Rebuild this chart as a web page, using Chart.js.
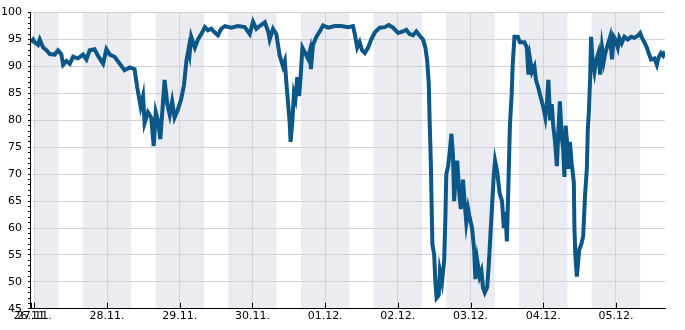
<!DOCTYPE html>
<html>
<head>
<meta charset="utf-8">
<script src="https://cdn.jsdelivr.net/npm/chart.js@4/dist/chart.umd.min.js"></script>
<style>
html, body { margin: 0; padding: 0; background: #fff; }
#wrap { width: 685px; height: 330px; position: relative; }
</style>
</head>
<body>
<div id="wrap"><canvas id="chart"></canvas></div>
<script>
// time in hours since 27.11. 00:00, humidity in %
var hours = [
	-1.1, -0.4, 0.1, 1.2, 1.8, 2.9, 4.0, 5.1, 6.7, 7.8, 8.9, 9.5, 10.6, 11.7, 12.8, 14.4, 16.1, 17.2, 18.3, 19.9,
	21.0, 22.7, 23.8, 24.9, 26.5, 28.2, 29.8, 31.5, 33.1, 34.0, 35.1, 35.9, 36.4, 37.5, 38.6, 39.4, 40.1, 40.8, 41.6, 42.3,
	43.0, 43.9, 44.7, 45.5, 46.3, 47.4, 48.5, 49.4, 50.2, 51.0, 51.3, 51.8, 53.0, 54.0, 55.1, 56.3, 57.3, 58.4, 59.6, 60.6,
	61.7, 62.9, 65.0, 67.2, 69.5, 71.1, 72.2, 73.3, 74.4, 76.1, 77.2, 77.7, 78.8, 79.9, 81.0, 82.1, 82.7, 83.2, 83.8, 84.3,
	84.6, 85.2, 85.7, 86.2, 86.8, 87.4, 87.9, 88.5, 89.4, 90.3, 91.0, 91.3, 92.0, 93.1, 94.2, 95.3, 97.0, 99.2, 101.3, 103.6,
	105.2, 105.8, 106.6, 107.4, 108.2, 109.1, 110.2, 111.2, 112.4, 114.0, 115.7, 117.0, 118.4, 120.1, 121.7, 122.8, 123.9, 125.0, 126.1, 127.2,
	128.3, 129.1, 129.7, 130.2, 130.5, 130.9, 131.1, 131.4, 132.0, 132.4, 132.8, 133.5, 133.9, 134.6, 135.3, 135.7, 136.0, 136.6, 137.1, 137.7,
	138.2, 138.6, 139.0, 139.6, 140.2, 140.8, 141.5, 142.1, 142.6, 143.2, 143.7, 144.5, 145.2, 145.6, 146.2, 147.0, 147.6, 148.1, 148.7, 149.5,
	150.0, 150.5, 151.1, 151.7, 152.1, 152.8, 153.6, 154.4, 155.0, 155.5, 156.0, 156.6, 157.0, 157.6, 157.9, 158.5, 159.6, 160.3, 161.8, 162.6,
	163.1, 163.6, 164.3, 165.1, 165.6, 166.4, 167.3, 168.0, 168.7, 169.2, 169.7, 170.3, 170.8, 171.3, 171.9, 172.5, 173.0, 173.5, 174.1, 174.6,
	175.0, 175.4, 176.0, 176.4, 176.8, 177.4, 178.1, 178.3, 178.6, 179.1, 179.5, 179.9, 180.6, 181.2, 181.8, 182.4, 182.7, 183.1, 183.5, 183.8,
	184.3, 184.9, 185.4, 186.2, 186.8, 187.4, 188.0, 188.5, 189.3, 190.1, 190.7, 191.3, 191.8, 192.6, 193.1, 193.9, 194.8, 195.9, 197.0, 198.1,
	199.2, 200.0, 200.6, 201.4, 202.2, 202.8, 203.6, 204.7, 205.5, 206.1, 206.9, 207.6, 208.2
];
var humidity = [
	94.5, 95, 94.5, 94, 95, 93.5, 93, 92.3, 92.2, 93, 92.3, 90.3, 91, 90.5, 91.8, 91.5, 92.2, 91.3, 93, 93.2,
	92, 90.5, 93.2, 92.2, 91.8, 90.5, 89.3, 89.8, 89.5, 86, 82.5, 84.5, 79.5, 81.5, 80.5, 75.2, 81.5, 80, 76.5, 82,
	87.5, 83, 81, 83.5, 80.5, 82, 84, 86.5, 91, 93.5, 92.5, 95.5, 93.5, 95, 96, 97.3, 96.7, 97, 96.3, 95.8,
	97, 97.5, 97.2, 97.5, 97.3, 96, 98.3, 97, 97.5, 98.2, 96.5, 95, 97, 96, 92, 90, 91, 87, 83, 79.5,
	76, 80, 85, 84, 88, 84.5, 88, 93.5, 92.5, 91.5, 93, 89.5, 94, 95.5, 96.5, 97.6, 97.2, 97.5, 97.5, 97.3,
	97.5, 96, 93.5, 94.5, 93, 92.5, 93.5, 95, 96.3, 97.2, 97.3, 97.7, 97.2, 96.2, 96.5, 96.8, 96, 95.8, 96.5, 95.7,
	95, 93.5, 91, 87, 80, 72, 66, 57, 55, 50, 47, 47.5, 52, 50, 54, 62, 70, 71.5, 74, 77.5,
	73.5, 65, 69, 72.5, 67, 63.5, 69, 64.5, 61, 63.5, 62, 60, 56, 50.5, 54, 51, 52, 49, 48, 49,
	53, 58, 64, 70, 72.5, 70.5, 66.5, 65, 60, 63, 57.5, 70, 79, 85, 90, 95.5, 95.5, 94.5, 94.5, 93.5,
	88.5, 91.5, 89, 90, 87.5, 86, 84, 82.5, 80.5, 83, 87.5, 80, 83, 79, 76, 71.5, 78, 83.5, 77, 74.5,
	69.5, 79, 75, 71, 76, 72, 68.5, 60, 55, 51, 53.5, 56, 57, 58.5, 66, 71, 78, 82, 88, 95.5,
	91, 89, 91, 92.5, 88.5, 93.5, 91, 92.5, 94, 95.5, 91.3, 95.5, 95, 93.5, 95.3, 94.3, 95.5, 95, 95.5, 95.3,
	95.7, 96.2, 95.3, 94.5, 93.5, 92.5, 91.3, 91.5, 90.3, 91.7, 92.5, 92, 92.8
];
var dayLabels = ['26.11.', '27.11.', '28.11.', '29.11.', '30.11.', '01.12.', '02.12.', '03.12.', '04.12.', '05.12.'];
var dayTicks = [-1.1, 0, 24, 48, 72, 96, 120, 144, 168, 192];
// shaded night periods (hours)
var nightStart = [0, 16, 40, 64, 88, 112, 136, 160, 184];
var nightEnd = [8, 32, 56, 80, 104, 128, 152, 176, 200];

var axisFont = { family: 'DejaVu Sans', size: 11 };
var gridColor = '#d2d2d6';

var bandsPlugin = {
	id: 'nightBands',
	beforeDraw: function(chart) {
		var ctx = chart.ctx, area = chart.chartArea, xs = chart.scales.x;
		ctx.save();
		ctx.fillStyle = '#ebecf1';
		for (var i = 0; i < nightStart.length; i++) {
			var x1 = Math.max(area.left, xs.getPixelForValue(nightStart[i]));
			var x2 = Math.min(area.right, xs.getPixelForValue(nightEnd[i]));
			if (x2 > x1) ctx.fillRect(x1, area.top, x2 - x1, area.bottom - area.top);
		}
		ctx.restore();
	},
	afterDraw: function(chart) {
		// x ticks point up into the plot
		var ctx = chart.ctx, area = chart.chartArea, xs = chart.scales.x;
		ctx.save();
		ctx.strokeStyle = '#000';
		ctx.lineWidth = 1;
		ctx.beginPath();
		for (var i = 0; i < dayTicks.length; i++) {
			var x = Math.round(xs.getPixelForValue(dayTicks[i])) + 0.5;
			ctx.moveTo(x, area.bottom);
			ctx.lineTo(x, area.bottom - 6);
		}
		ctx.stroke();
		ctx.restore();
	}
};

function buildData() {
	var points = [];
	for (var i = 0; i < hours.length; i++) {
		points.push({ x: hours[i], y: humidity[i] });
	}
	return {
		datasets: [{
			data: points,
			borderColor: '#0b5787',
			borderWidth: 4,
			pointRadius: 0,
			tension: 0,
			fill: false,
			borderJoinStyle: 'miter',
			borderCapStyle: 'butt'
		}]
	};
}

new Chart(document.getElementById('chart').getContext('2d'), {
	type: 'line',
	data: buildData(),
	plugins: [bandsPlugin],
	options: {
		responsive: true,
		maintainAspectRatio: false,
		animation: false,
		devicePixelRatio: 1,
		layout: { padding: { left: -5, right: 20, top: 6, bottom: 6 } },
		plugins: { legend: { display: false }, tooltip: { enabled: false } },
		scales: {
			x: {
				type: 'linear',
				min: -1.1,
				max: 208.2,
				afterBuildTicks: function(axis) {
					axis.ticks = dayTicks.map(function(v) { return { value: v }; });
				},
				ticks: {
					autoSkip: false,
					maxRotation: 0,
					minRotation: 0,
					padding: 1,
					color: '#000',
					font: axisFont,
					callback: function(v) { return dayLabels[Math.floor(v / 24) + 1]; }
				},
				grid: {
					drawTicks: false,
					color: function(c) { return c.tick && c.tick.value < 0 ? 'rgba(0,0,0,0)' : gridColor; }
				},
				border: { color: '#000', width: 1 }
			},
			y: {
				min: 45,
				max: 100,
				ticks: {
					stepSize: 1,
					autoSkip: false,
					padding: 6,
					color: '#000',
					font: axisFont,
					callback: function(v) { return v % 5 === 0 ? v : ''; }
				},
				grid: {
					tickLength: 3,
					tickColor: '#000',
					color: function(c) { return c.tick && c.tick.value % 5 === 0 ? gridColor : 'rgba(0,0,0,0)'; }
				},
				border: { color: '#000', width: 1 }
			}
		}
	}
});
</script>
</body>
</html>
